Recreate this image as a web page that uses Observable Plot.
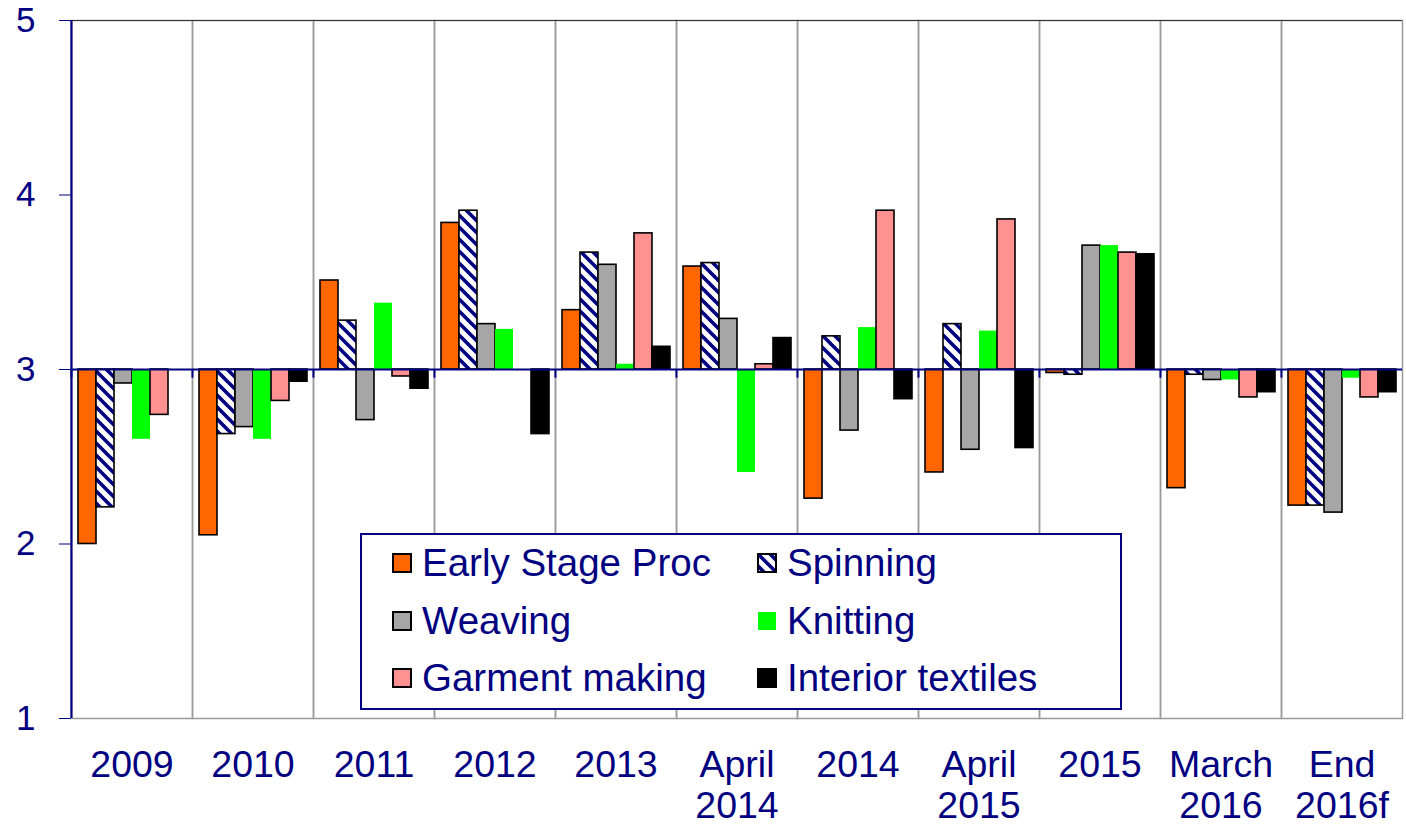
<!DOCTYPE html>
<html>
<head>
<meta charset="utf-8">
<script src="https://cdn.jsdelivr.net/npm/d3@7"></script>
<script src="https://cdn.jsdelivr.net/npm/@observablehq/plot@0.6"></script>
<style>
  html, body { margin: 0; padding: 0; background: white; }
  #wrap { position: relative; width: 1406px; height: 826px; overflow: hidden; font-family: "Liberation Sans", Arial, sans-serif; }
  #legend { position: absolute; left: 360px; top: 533px; width: 758px; height: 173px; border: 2px solid #000080; background: white; box-sizing: content-box; }
  .item { position: absolute; display: flex; align-items: center; color: #000080; font-size: 38.5px; white-space: nowrap; }
  .item svg { margin-right: 10px; }
</style>
</head>
<body>
<div id="wrap"></div>
<script>
const groups = ["2009","2010","2011","2012","2013","April 2014","2014","April 2015","2015","March 2016","End 2016f"];
const groupLabels = ["2009","2010","2011","2012","2013","April\n2014","2014","April\n2015","2015","March\n2016","End\n2016f"];
const series = ["Early Stage Proc","Spinning","Weaving","Knitting","Garment making","Interior textiles"];
const earlyStage = [2.00,2.05,3.51,3.84,3.34,3.59,2.26,2.41,2.98,2.32,2.22];
const spinning   = [2.21,2.63,3.28,3.91,3.67,3.61,3.19,3.26,2.97,2.97,2.22];
const weaving    = [2.92,2.67,2.71,3.26,3.60,3.29,2.65,2.54,3.71,2.94,2.18];
const knitting   = [2.60,2.60,3.38,3.23,3.03,2.41,3.24,3.22,3.71,2.94,2.95];
const garment    = [2.74,2.82,2.96,null,3.78,3.03,3.91,3.86,3.67,2.84,2.84];
const interior   = [null,2.93,2.89,2.63,3.13,3.18,2.83,2.55,3.66,2.87,2.87];
const yTicks = [1,2,3,4,5];
const baseline = 3;

const values = [earlyStage, spinning, weaving, knitting, garment, interior];
const fills = ["#FF6600", "url(#hatch)", "#A6A6A6", "#00FF00", "#FF9191", "#000000"];
const strokes = ["#000", "#000", "#000", "none", "#000", "#000"];
const navy = "#000080";

const data = groups.flatMap((g, i) => series.map((s, j) => ({group: g, series: s, value: values[j][i]})))
  .filter(d => d.value != null);

const W = 1406, H = 826, mL = 70, mR = 4, mT = 20, mB = 108;
const fw = (W - mL - mR) / groups.length;

const marks = [
  Plot.frame({stroke: "#9a9a9a", strokeWidth: 1.5}),
  ...series.map((s, j) => Plot.barY(data.filter(d => d.series === s), {
    fx: "group", x: "series", y1: () => baseline, y2: "value",
    fill: fills[j], stroke: strokes[j], strokeWidth: 1.6
  })),
  Plot.ruleY([5], {stroke: "#333", strokeWidth: 1.2}),
  Plot.ruleY([baseline], {stroke: navy, strokeWidth: 2}),
  Plot.ruleX(groups, {fx: d => d, x: null, y1: () => baseline, y2: () => baseline - 0.05, dx: -fw / 2, stroke: navy, strokeWidth: 2}),
  Plot.ruleX([groups[0]], {fx: d => d, x: null, y1: () => 1, y2: () => 5, dx: -fw / 2, stroke: navy, strokeWidth: 2.2}),
  Plot.text(groups, {fx: d => d, text: d => groupLabels[groups.indexOf(d)], frameAnchor: "bottom", lineAnchor: "top",
    dy: 29, fontSize: 37.5, lineHeight: 1.1, fill: navy})
];

const chart = Plot.plot({
  width: W, height: H,
  marginLeft: mL, marginRight: mR, marginTop: mT, marginBottom: mB,
  style: {fontFamily: "'Liberation Sans', Arial, sans-serif", fontSize: "35px", color: navy, background: "white", overflow: "visible"},
  fx: {domain: groups, padding: 0, axis: null},
  x: {domain: series, paddingInner: 0, paddingOuter: 0.33, axis: null},
  y: {domain: [1, 5], ticks: yTicks, tickFormat: d => String(d), tickSize: 12, tickPadding: 24, line: true, label: null},
  marks
});

function addHatch(svgNode, id) {
  const defs = d3.select(svgNode).insert("defs", ":first-child");
  const p = defs.append("pattern").attr("id", id).attr("patternUnits", "userSpaceOnUse")
    .attr("width", 12).attr("height", 12);
  p.append("rect").attr("width", 12).attr("height", 12).attr("fill", "white");
  p.append("path").attr("d", "M0,0L12,12M-3,9L3,15M9,-3L15,3").attr("stroke", navy).attr("stroke-width", 3.6);
}
addHatch(chart, "hatch");

const wrap = document.getElementById("wrap");
wrap.appendChild(chart);

// legend
const legend = d3.select(wrap).append("div").attr("id", "legend");
const cols = [30, 395], rows = [28, 86, 143];
series.forEach((s, j) => {
  const item = legend.append("div").attr("class", "item")
    .style("left", cols[j % 2] + "px").style("top", (rows[Math.floor(j / 2)] - 22) + "px").style("height", "44px");
  const sw = item.append("svg").attr("width", 20).attr("height", 20);
  if (j === 1) addHatch(sw.node(), "hatchL");
  sw.append("rect").attr("x", 1).attr("y", 1).attr("width", 18).attr("height", 18)
    .attr("fill", j === 1 ? "url(#hatchL)" : fills[j])
    .attr("stroke", strokes[j]).attr("stroke-width", 2);
  item.append("span").text(s);
});
</script>
</body>
</html>
